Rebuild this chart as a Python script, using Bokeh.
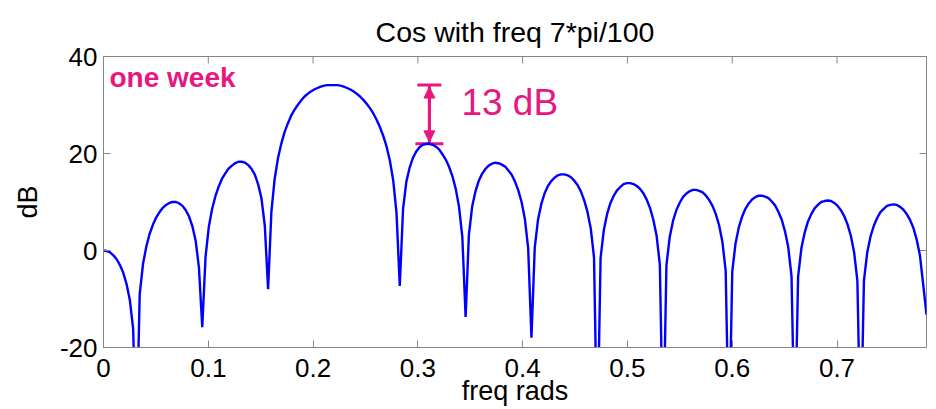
import numpy as np
from bokeh.plotting import figure
from bokeh.models import (FixedTicker, Label, Arrow, NormalHead,
                          Whisker, TeeHead, ColumnDataSource, Range1d)
from bokeh.embed import file_html
from bokeh.resources import INLINE

# ---- data ----
title = "Cos with freq 7*pi/100"
x_label = "freq rads"
y_label = "dB"
xticks = [0, 0.1, 0.2, 0.3, 0.4, 0.5, 0.6, 0.7]
xtick_labels = ["0", "0.1", "0.2", "0.3", "0.4", "0.5", "0.6", "0.7"]
yticks = [-20, 0, 20, 40]
ytick_labels = ["-20", "0", "20", "40"]
freq_start = 0.0
freq_end = 0.7854          # pi/4, right edge of the axis
# magnitude in dB, sampled every pi/500 rad from 0 to pi/4 (251 samples)
db = [
    0.0, -0.1, -0.4, -1.0, -1.8, -3.0, -4.6, -6.9, -10.2, -16.1, -40.0,
    -9.0, -2.8, 0.8, 3.4, 5.3, 6.8, 7.9, 8.8, 9.4, 9.8, 10.0, 10.0, 9.7, 9.2, 8.3, 7.0, 5.0, 2.0, -3.6, -15.8,
    -1.3, 4.9, 8.6, 11.2, 13.2, 14.8, 15.9, 16.9, 17.5, 18.0, 18.3, 18.3, 18.1, 17.6, 16.8, 15.6, 13.6, 10.7, 5.1, -8.0,
    8.0, 14.8, 19.0, 22.0, 24.4, 26.2, 27.8, 29.0, 30.0, 30.9, 31.7, 32.3, 32.8, 33.2, 33.5, 33.8, 34.0, 34.1, 34.1, 34.1,
    34.1, 34.0, 33.8, 33.5, 33.2, 32.8, 32.3, 31.7, 31.0, 30.2, 29.3, 28.2, 26.9, 25.4, 23.6, 21.4, 18.5, 14.5, 7.8, -7.3,
    8.6, 14.2, 17.1, 19.1, 20.4, 21.3, 21.8, 22.0, 22.0, 21.8, 21.4, 20.8, 19.8, 18.7, 17.2, 15.3, 12.7, 9.0, 2.8, -13.7,
    3.3, 9.1, 12.2, 14.4, 15.8, 16.8, 17.5, 17.9, 18.1, 18.0, 17.7, 17.3, 16.5, 15.6, 14.2, 12.4, 10.0, 6.5, 0.5, -18.0,
    0.6, 6.4, 9.6, 11.8, 13.3, 14.3, 15.0, 15.5, 15.7, 15.7, 15.5, 15.1, 14.4, 13.5, 12.2, 10.4, 8.0, 4.6, -1.4, -40.0,
    -1.5, 4.3, 7.6, 9.8, 11.3, 12.4, 13.1, 13.7, 13.9, 13.9, 13.7, 13.3, 12.7, 11.8, 10.5, 8.8, 6.4, 3.1, -2.9, -40.0,
    -3.0, 2.8, 6.1, 8.3, 9.8, 11.0, 11.7, 12.2, 12.5, 12.5, 12.3, 12.0, 11.3, 10.4, 9.2, 7.5, 5.2, 1.8, -4.2, -40.0,
    -4.3, 1.5, 4.8, 7.0, 8.6, 9.7, 10.5, 11.0, 11.3, 11.3, 11.1, 10.8, 10.1, 9.3, 8.0, 6.4, 4.0, 0.7, -5.3, -40.0,
    -5.4, 0.5, 3.7, 6.0, 7.5, 8.7, 9.4, 10.0, 10.2, 10.3, 10.2, 9.8, 9.2, 8.3, 7.1, 5.4, 3.1, -0.3, -6.2, -40.0,
    -6.2, -0.4, 2.9, 5.1, 6.7, 7.9, 8.6, 9.2, 9.4, 9.5, 9.4, 9.0, 8.4, 7.5, 6.3, 4.7, 2.3, -1.0, -7.0, -13.2,
]
annotation_text = "13 dB"
scribble_text = "one week"

freq = np.linspace(freq_start, freq_end, len(db))
src = ColumnDataSource(dict(freq=freq, db=db))

# ---- styling ----
FONT = "Liberation Sans"
GRAY = "#868686"
PINK = "#e8177f"

p = figure(width=930, height=409, output_backend="svg", toolbar_location=None,
           x_range=Range1d(freq_start, freq_end), y_range=Range1d(yticks[0], yticks[-1]),
           min_border_left=103, min_border_right=4, min_border_top=56, min_border_bottom=62)
p.background_fill_color = "white"
p.border_fill_color = "white"
p.outline_line_color = GRAY
p.outline_line_width = 1
p.xgrid.visible = False
p.ygrid.visible = False

p.title.text = title
p.title.align = "center"
p.title.text_font = FONT
p.title.text_font_size = "28.5px"
p.title.text_font_style = "normal"
p.title.text_color = "black"
p.title.standoff = 18

def style_axis(ax, ticks, labels):
    ax.ticker = FixedTicker(ticks=ticks)
    ax.major_tick_in = 7
    ax.major_tick_out = 0
    ax.major_tick_line_color = GRAY
    ax.minor_tick_line_color = None
    ax.axis_line_color = GRAY
    ax.major_label_text_font = FONT
    ax.major_label_text_font_size = "26px"
    ax.major_label_text_color = "black"
    ax.axis_label_text_font = FONT
    ax.axis_label_text_font_size = "27px"
    ax.axis_label_text_font_style = "normal"
    ax.axis_label_text_color = "black"
    ax.major_label_overrides = {t: l for t, l in zip(ticks, labels)}

style_axis(p.xaxis[0], xticks, xtick_labels)
style_axis(p.yaxis[0], yticks, ytick_labels)
p.xaxis[0].axis_label = x_label
p.yaxis[0].axis_label = y_label
p.xaxis[0].major_label_standoff = 11
p.xaxis[0].axis_label_standoff = -4
p.yaxis[0].major_label_standoff = 6
p.yaxis[0].axis_label_standoff = 14

# inward ticks on the top and right edges of the box (half of each dash is
# clipped away by the frame, leaving a 7px tick pointing inwards)
p.scatter(xticks, [yticks[-1]] * len(xticks), marker="dash", angle=np.pi / 2,
          size=14, line_color=GRAY, line_width=1)
p.scatter([freq_end] * len(yticks), yticks, marker="dash",
          size=14, line_color=GRAY, line_width=1)

p.line("freq", "db", source=src, line_color="#0000ff", line_width=2.4)

# ---- hand-drawn annotation: main lobe vs first sidelobe ----
db_arr = np.array(db)
i_main = int(np.argmax(db_arr))
j = i_main
while j + 1 < len(db_arr) and db_arr[j + 1] <= db_arr[j]:
    j += 1
k = j
while k + 1 < len(db_arr) and db_arr[k + 1] >= db_arr[k]:
    k += 1
ax_x = float(freq[k])
top_y = float(db_arr[i_main])
bot_y = float(db_arr[k])

p.add_layout(Whisker(base=ax_x, lower=bot_y, upper=top_y, dimension="height",
                     line_color=PINK, line_width=3,
                     upper_head=TeeHead(size=24, line_color=PINK, line_width=3),
                     lower_head=TeeHead(size=28, line_color=PINK, line_width=3)))
p.add_layout(Arrow(x_start=ax_x, y_start=(top_y + bot_y) / 2, x_end=ax_x, y_end=top_y - 0.4,
                   line_color=PINK, line_width=3,
                   end=NormalHead(size=11, fill_color=PINK, line_color=PINK)))
p.add_layout(Arrow(x_start=ax_x, y_start=(top_y + bot_y) / 2, x_end=ax_x, y_end=bot_y + 0.4,
                   line_color=PINK, line_width=3,
                   end=NormalHead(size=11, fill_color=PINK, line_color=PINK)))
p.add_layout(Label(x=ax_x, y=(top_y + bot_y) / 2, x_offset=32, y_offset=12,
                   text=annotation_text, text_color=PINK, text_font=FONT,
                   text_font_size="37px", text_baseline="middle"))
# handwritten note (top-left corner of the box; annotations are clipped to
# the frame, and screen units are measured from the frame's lower-left corner)
p.add_layout(Label(x=6, y=286, x_units="screen", y_units="screen",
                   text=scribble_text, text_color=PINK, text_font=FONT,
                   text_font_size="28px", text_font_style="bold",
                   text_baseline="top"))

open("out.html", "w").write(file_html(p, INLINE))
